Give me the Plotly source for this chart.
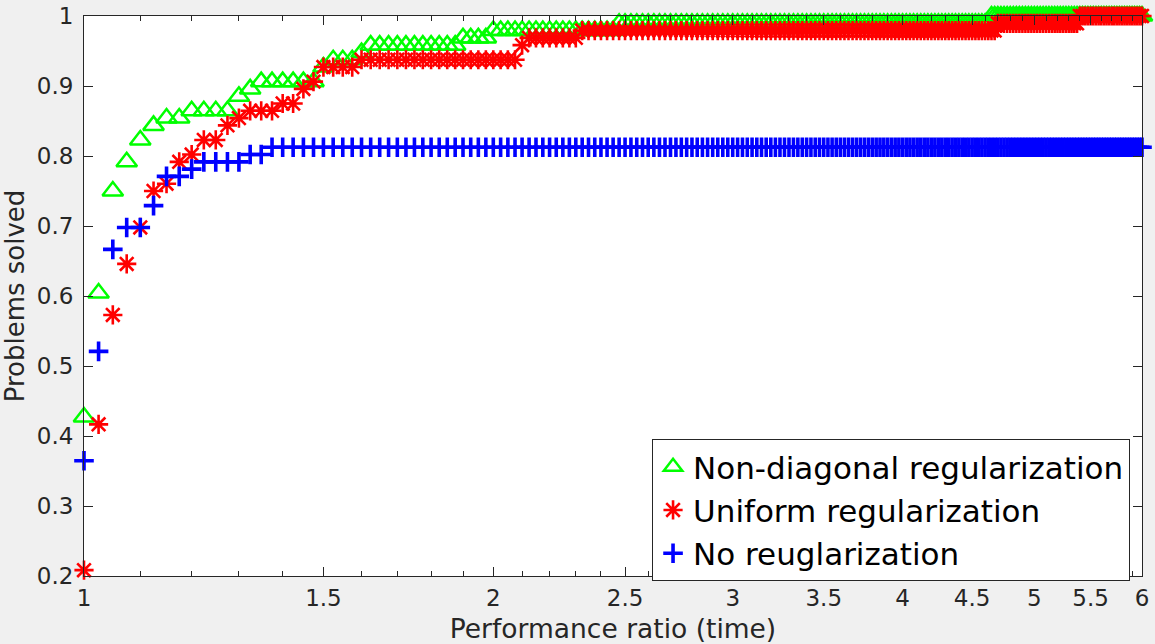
import numpy as np
import plotly.graph_objects as go

# ---------------- data ----------------
n_problems = 96
tau_first = 1.0
tau_last = 6.0
n_tau = 201  # tau samples at which the profile is evaluated (step 0.025)

series_names = ["Non-diagonal regularization", "Uniform regularization", "No reuglarization"]

# number of problems solved (level) and how many consecutive tau samples keep it
green_levels = [41, 58, 72, 76, 79, 81, 82, 83, 85, 86, 87, 89, 90, 91, 92, 93, 94, 95, 96]
green_runs   = [1,  1,  1,  1,  1,  1,  2,  4,  1,  1,  6,  1,  3,  1,  11, 4,  19, 87, 55]

red_levels = [20, 40, 55, 62, 67, 72, 73, 76, 77, 79, 81, 82, 83, 84, 86, 87, 89, 90, 92, 93, 94, 95, 96]
red_runs   = [1,  1,  1,  1,  1,  1,  1,  1,  1,  2,  1,  1,  3,  2,  1,  1,  4,  20, 1,  8,  95, 28, 25]

blue_levels = [35, 50, 64, 67, 70, 74, 75, 76, 77, 78]
blue_runs   = [1,  1,  1,  2,  1,  2,  1,  4,  2,  186]

x_major_ticks = [1, 1.5, 2, 2.5, 3, 3.5, 4, 4.5, 5, 5.5, 6]
x_major_labels = ["1", "1.5", "2", "2.5", "3", "3.5", "4", "4.5", "5", "5.5", "6"]
x_minor_ticks = [1.1, 1.2, 1.3, 1.4, 1.6, 1.7, 1.8, 1.9, 2.1, 2.2, 2.3, 2.4, 2.6, 2.7, 2.8, 2.9,
                 3.1, 3.2, 3.3, 3.4, 3.6, 3.7, 3.8, 3.9, 4.1, 4.2, 4.3, 4.4, 4.6, 4.7, 4.8, 4.9,
                 5.1, 5.2, 5.3, 5.4, 5.6, 5.7, 5.8, 5.9]
y_ticks = [0.2, 0.3, 0.4, 0.5, 0.6, 0.7, 0.8, 0.9, 1.0]
y_labels = ["0.2", "0.3", "0.4", "0.5", "0.6", "0.7", "0.8", "0.9", "1"]

# ---------------- build ----------------
tau = np.linspace(tau_first, tau_last, n_tau)

def profile(levels, runs):
    return np.repeat(np.array(levels, dtype=float), runs) / n_problems

styles = [
    dict(color="#00ff00", symbol="triangle-up-open", size=18, width=2.5),
    dict(color="#ff0000", symbol="asterisk-open", size=16, width=2.6),
    dict(color="#0000ff", symbol="cross-thin-open", size=14, width=3.6),
]
data = [(green_levels, green_runs), (red_levels, red_runs), (blue_levels, blue_runs)]

FONT = "DejaVu Sans"
AX = "#262626"

fig = go.Figure()
for name, (lv, rn), st in zip(series_names, data, styles):
    fig.add_trace(go.Scatter(
        x=tau, y=profile(lv, rn), mode="markers", name=name, cliponaxis=False,
        marker=dict(symbol=st["symbol"], size=st["size"], color=st["color"],
                    line=dict(color=st["color"], width=st["width"])),
    ))

fig.update_layout(
    width=1155, height=644,
    margin=dict(l=84, r=13, t=16, b=68, autoexpand=False),
    paper_bgcolor="#f0f0f0", plot_bgcolor="white",
    font=dict(family=FONT, color=AX),
    showlegend=True,
    legend=dict(x=0.9887, xanchor="right", y=0.2446, yanchor="top",
                bgcolor="white", bordercolor=AX, borderwidth=1,
                font=dict(family=FONT, size=31, color="black"),
                tracegroupgap=0),
    xaxis=dict(type="log", range=[np.log10(tau_first), np.log10(tau_last)],
               tickmode="array", tickvals=x_major_ticks, ticktext=x_major_labels,
               ticks="inside", ticklen=9, tickwidth=1, tickcolor=AX,
               showline=True, linecolor=AX, linewidth=1, mirror="allticks",
               showgrid=False, zeroline=False, automargin=False,
               ticklabelstandoff=1,
               tickfont=dict(family=FONT, size=23, color=AX),
               title=dict(text="Performance ratio (time)", standoff=12,
                          font=dict(family=FONT, size=26.5, color=AX)),
               minor=dict(tickmode="array", tickvals=x_minor_ticks, ticks="inside",
                          ticklen=5, tickwidth=1, tickcolor=AX, showgrid=False)),
    yaxis=dict(range=[0.2, 1.0], tickmode="array", tickvals=y_ticks, ticktext=y_labels,
               ticks="inside", ticklen=9, tickwidth=1, tickcolor=AX,
               showline=True, linecolor=AX, linewidth=1, mirror="allticks",
               showgrid=False, zeroline=False, automargin=False,
               ticklabelstandoff=5,
               tickfont=dict(family=FONT, size=23, color=AX),
               title=dict(text="Problems solved", standoff=7,
                          font=dict(family=FONT, size=26, color=AX))),
)

fig.write_html("out.html")
